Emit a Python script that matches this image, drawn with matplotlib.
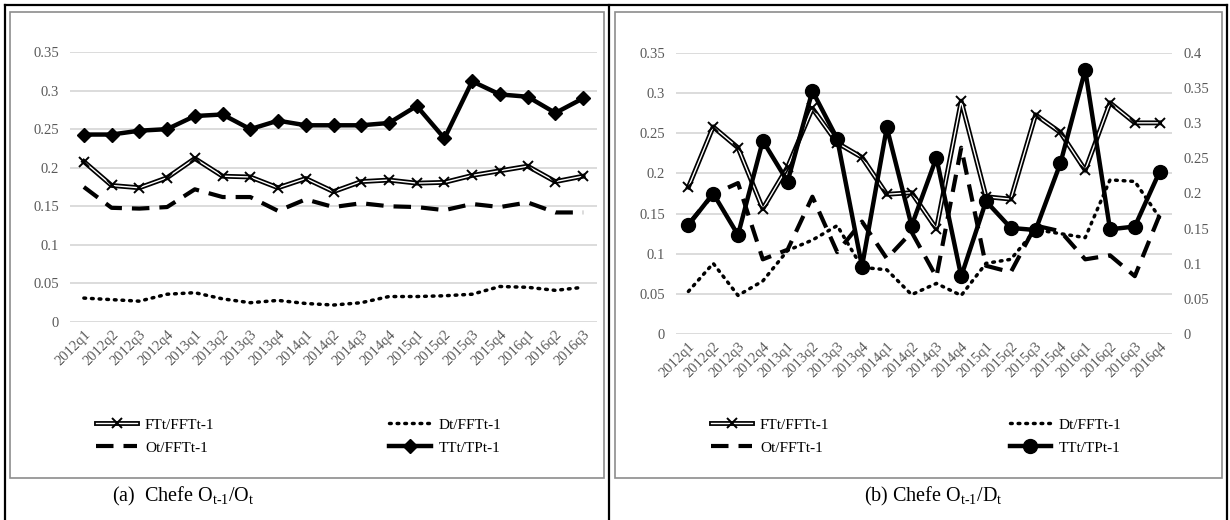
import numpy as np
import matplotlib
matplotlib.use('Agg')
import matplotlib.pyplot as plt
import matplotlib.patheffects as pe
from matplotlib.legend_handler import HandlerTuple
from matplotlib.lines import Line2D
from matplotlib.patches import Rectangle
from matplotlib.ticker import FuncFormatter

plt.rcParams['font.family'] = ['Liberation Serif', 'DejaVu Serif']
plt.rcParams['mathtext.fontset'] = 'custom'
plt.rcParams['mathtext.rm'] = 'Liberation Serif'
plt.rcParams['mathtext.it'] = 'Liberation Serif:italic'

# panel (a): Chefe O(t-1)/O(t)
quarters_a = ['2012q1', '2012q2', '2012q3', '2012q4', '2013q1', '2013q2', '2013q3', '2013q4',
              '2014q1', '2014q2', '2014q3', '2014q4', '2015q1', '2015q2', '2015q3', '2015q4',
              '2016q1', '2016q2', '2016q3']
ft_a = [0.208, 0.177, 0.174, 0.187, 0.212, 0.189, 0.188, 0.174, 0.186, 0.169,
        0.182, 0.184, 0.180, 0.181, 0.190, 0.196, 0.202, 0.182, 0.189]
dt_a = [0.031, 0.029, 0.027, 0.036, 0.038, 0.030, 0.025, 0.028, 0.024, 0.022,
        0.025, 0.033, 0.033, 0.034, 0.036, 0.046, 0.045, 0.041, 0.045]
ot_a = [0.175, 0.148, 0.147, 0.149, 0.172, 0.162, 0.162, 0.144, 0.159, 0.149,
        0.154, 0.150, 0.149, 0.145, 0.153, 0.149, 0.155, 0.142, 0.142]
tt_a = [0.243, 0.243, 0.248, 0.250, 0.267, 0.269, 0.250, 0.261, 0.255, 0.255,
        0.255, 0.258, 0.280, 0.238, 0.312, 0.295, 0.292, 0.271, 0.290]

# panel (b): Chefe O(t-1)/D(t)  (TTt/TPt-1 on the right axis)
quarters_b = ['2012q1', '2012q2', '2012q3', '2012q4', '2013q1', '2013q2', '2013q3', '2013q4',
              '2014q1', '2014q2', '2014q3', '2014q4', '2015q1', '2015q2', '2015q3', '2015q4',
              '2016q1', '2016q2', '2016q3', '2016q4']
ft_b = [0.183, 0.258, 0.232, 0.156, 0.208, 0.281, 0.238, 0.220, 0.174, 0.176,
        0.131, 0.290, 0.171, 0.168, 0.273, 0.251, 0.204, 0.288, 0.263, 0.263]
dt_b = [0.053, 0.088, 0.048, 0.066, 0.104, 0.117, 0.135, 0.083, 0.080, 0.049,
        0.063, 0.048, 0.088, 0.093, 0.130, 0.125, 0.120, 0.192, 0.190, 0.145]
ot_b = [0.137, 0.174, 0.188, 0.093, 0.105, 0.171, 0.102, 0.140, 0.094, 0.127,
        0.071, 0.232, 0.085, 0.077, 0.135, 0.128, 0.093, 0.098, 0.072, 0.148]
tt_b = [0.155, 0.200, 0.141, 0.275, 0.217, 0.346, 0.278, 0.096, 0.294, 0.154,
        0.251, 0.082, 0.189, 0.151, 0.148, 0.243, 0.376, 0.149, 0.153, 0.231]

labels = ['FTt/FFTt-1', 'Ot/FFTt-1', 'Dt/FFTt-1', 'TTt/TPt-1']

W, H = 1230, 520
GRAY = '#595959'


def rect(x0, y0, x1, y1):
    return [x0 / W, 1 - y1 / H, (x1 - x0) / W, (y1 - y0) / H]


fmt = FuncFormatter(lambda v, p: f'{v:g}')


def style(ax, ymax):
    ax.set_ylim(0, ymax)
    ax.set_yticks(np.arange(0, ymax + 0.001, 0.05))
    ax.yaxis.set_major_formatter(fmt)
    for s in ax.spines.values():
        s.set_visible(False)
    ax.tick_params(length=0, colors=GRAY, labelsize=10.5, pad=8)


def panel(ax, cats, ft, dt, ot, tt, ax_tt, mk, ms):
    x = np.arange(len(cats))
    style(ax, 0.35)
    ax.grid(axis='y', color='#d9d9d9', lw=1.3)
    ax.set_axisbelow(True)
    ax.set_xlim(-0.5, len(cats) - 0.5)
    ax.set_xticks(x)
    ax.set_xticklabels(cats, rotation=45, ha='right', rotation_mode='anchor')
    ax.tick_params(axis='x', pad=4)

    ft_line, = ax.plot(x, ft, color='white', lw=1.0, zorder=3,
                       path_effects=[pe.Stroke(linewidth=3.5, foreground='black'), pe.Normal()])
    ft_mk, = ax.plot(x, ft, ls='none', marker='x', color='black', ms=7, mew=1.4, zorder=4)
    dt_line, = ax.plot(x, dt, color='black', lw=2.5, ls=(0, (0.5, 1.7)),
                       dash_capstyle='round', zorder=3)
    ot_line, = ax.plot(x, ot, color='black', lw=3.0, ls=(0, (4.2, 2.4)), zorder=3)
    tt_line, = ax_tt.plot(x, tt, color='black', lw=3.2, marker=mk, ms=ms, zorder=5)
    return [(ft_line, ft_mk), ot_line, dt_line, tt_line]


fig = plt.figure(figsize=(12.3, 5.2), dpi=100)

# frames
for xs, ys in [([5, 5], [5, 520]), ([5, 1227], [5, 5]), ([1227, 1227], [5, 520]), ([609, 609], [5, 520])]:
    fig.add_artist(Line2D([v / W for v in xs], [1 - v / H for v in ys], transform=fig.transFigure,
                          color='black', lw=1.6))
for x0, x1 in [(10, 604), (615, 1222)]:
    fig.add_artist(Rectangle((x0 / W, 1 - 478 / H), (x1 - x0) / W, (478 - 12) / H,
                             transform=fig.transFigure, fill=False, edgecolor='#8c8c8c', lw=1.2))

ax1 = fig.add_axes(rect(70, 52, 597, 322))
h1 = panel(ax1, quarters_a, ft_a, dt_a, ot_a, tt_a, ax1, 'D', 7)

ax2 = fig.add_axes(rect(676, 53, 1172, 334))
ax2r = ax2.twinx()
style(ax2r, 0.4)
h2 = panel(ax2, quarters_b, ft_b, dt_b, ot_b, tt_b, ax2r, 'o', 10)

for ax, h, x0, cs in [(ax1, h1, 90, 11.45), (ax2, h2, 705, 11.8)]:
    ax.legend(h, labels, handler_map={tuple: HandlerTuple(ndivide=1)}, ncol=2,
              loc='upper left', bbox_to_anchor=(x0 / W, 1 - 412 / H), bbox_transform=fig.transFigure,
              frameon=False, fontsize=11, handlelength=2.7, handletextpad=0.5,
              columnspacing=cs, labelspacing=0.6, borderaxespad=0)

fig.text(183 / W, 1 - 496 / H, r'(a)  Chefe O$_{\mathrm{t\text{-}1}}$/O$_{\mathrm{t}}$',
         ha='center', va='center', fontsize=14.5)
fig.text(933 / W, 1 - 496 / H, r'(b) Chefe O$_{\mathrm{t\text{-}1}}$/D$_{\mathrm{t}}$',
         ha='center', va='center', fontsize=14.5)

fig.savefig('out.png', dpi=100)
